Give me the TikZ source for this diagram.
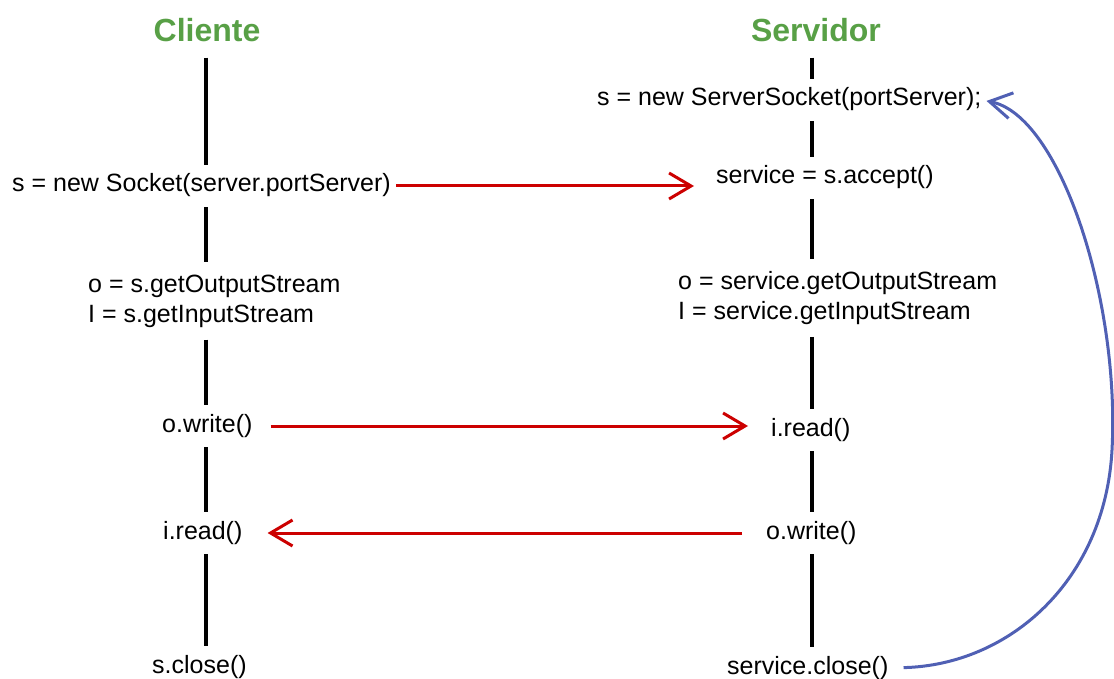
\documentclass[tikz,border=0pt]{standalone}
\usepackage{fontspec}
\setmainfont{Liberation Sans}
\usetikzlibrary{arrows.meta}
\definecolor{titlegreen}{RGB}{88,160,70}
\definecolor{arrowred}{RGB}{204,0,0}
\definecolor{curveblue}{RGB}{80,96,180}
\tikzset{
  txt/.style={font=\fontsize{25}{30}\selectfont, text height=18pt, text depth=6pt,
              inner xsep=0pt, inner ysep=9pt, anchor=west},
  txttwo/.style={font=\fontsize{25}{30}\selectfont, align=left,
              inner xsep=0pt, inner ysep=12pt, anchor=west},
  ttl/.style={font=\bfseries\fontsize{32}{38}\selectfont, text=titlegreen,
              text height=23pt, text depth=0pt, inner xsep=0pt, inner ysep=16pt},
  life/.style={line width=4pt, draw=black},
  msg/.style={line width=3pt, draw=arrowred,
              -{Straight Barb[length=22pt,width=26pt]}},
  loopback/.style={line width=3pt, draw=curveblue,
              -{Straight Barb[length=22pt,width=26pt]}},
}
\begin{document}
\begin{tikzpicture}[x=1pt,y=-1pt]
\useasboundingbox (0,0) rectangle (1114,679);
\coordinate (cx) at (206,0);
\coordinate (sx) at (812,0);
% client column
\node[ttl] (ct) at (207,30) {Cliente};
\node[txt] (c1) at (12,186) {s = new Socket(server.portServer)};
\node[txttwo] (c2) at (88,301) {o = s.getOutputStream\\I = s.getInputStream};
\node[txt] (c3) at (162,426) {o.write()};
\node[txt] (c4) at (163,533) {i.read()};
\node[txt] (c5) at (152,667) {s.close()};
% server column
\node[ttl] (st) at (816,30) {Servidor};
\node[txt] (s1) at (597,100) {s = new ServerSocket(portServer);};
\node[txt] (s2) at (716,178) {service = s.accept()};
\node[txttwo] (s3) at (678,298) {o = service.getOutputStream\\I = service.getInputStream};
\node[txt] (s4) at (771,430) {i.read()};
\node[txt] (s5) at (766,533) {o.write()};
\node[txt] (s6) at (727,668) {service.close()};
% lifelines
\draw[life] (ct.south -| cx) -- (c1.north -| cx);
\draw[life] (c1.south -| cx) -- (c2.north -| cx);
\draw[life] (c2.south -| cx) -- (c3.north -| cx);
\draw[life] (c3.south -| cx) -- (c4.north -| cx);
\draw[life] (c4.south -| cx) -- (c5.north -| cx);
\draw[life] (st.south -| sx) -- (s1.north -| sx);
\draw[life] (s1.south -| sx) -- (s2.north -| sx);
\draw[life] (s2.south -| sx) -- (s3.north -| sx);
\draw[life] (s3.south -| sx) -- (s4.north -| sx);
\draw[life] (s4.south -| sx) -- (s5.north -| sx);
\draw[life] (s5.south -| sx) -- (s6.north -| sx);
% messages
\draw[msg, shorten <=5pt, shorten >=22pt] (c1.east) -- (c1.east -| s2.west);
\draw[msg, shorten <=18pt, shorten >=23pt] (c3.east) -- (c3.east -| s4.west);
\draw[msg, shorten <=24pt, shorten >=25pt] (s5.west) -- (s5.west -| c4.east);
% loop back
\draw[loopback, shorten <=15pt, shorten >=5pt] (s6.east)
  .. controls (1010,665) and (1105,580) .. (1112,450)
  .. controls (1120,300) and (1060,115) .. (s1.east);
\end{tikzpicture}
\end{document}
